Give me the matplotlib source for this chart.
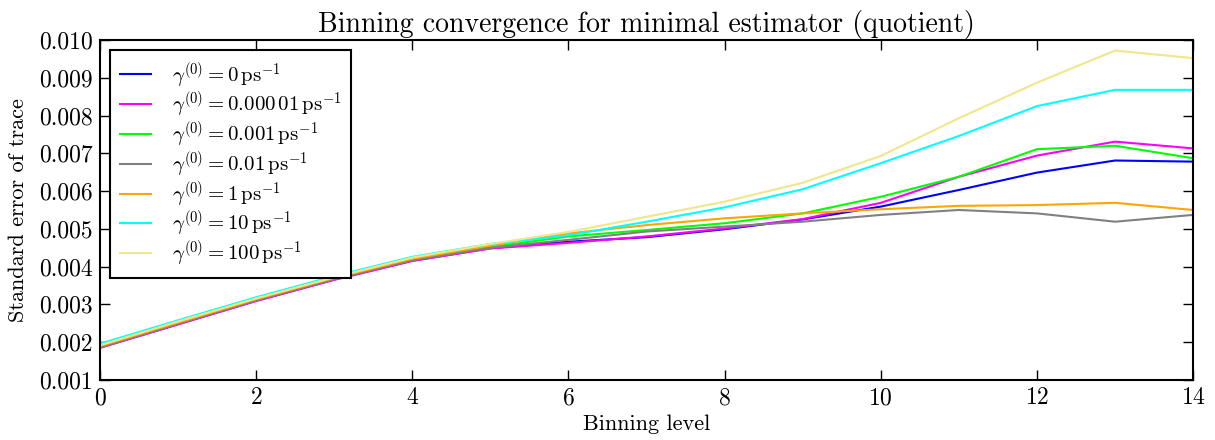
import matplotlib
matplotlib.use("Agg")
import matplotlib.pyplot as plt

plt.rcParams['font.family'] = 'serif'
plt.rcParams['font.serif'] = ['cmr10', 'DejaVu Serif']
plt.rcParams['mathtext.fontset'] = 'cm'
plt.rcParams['axes.unicode_minus'] = False
plt.rcParams['axes.formatter.use_mathtext'] = True

levels = list(range(15))

labels = [
    r'$\gamma^{(0)} = 0\,\mathrm{ps}^{-1}$',
    r'$\gamma^{(0)} = 0.000\,01\,\mathrm{ps}^{-1}$',
    r'$\gamma^{(0)} = 0.001\,\mathrm{ps}^{-1}$',
    r'$\gamma^{(0)} = 0.01\,\mathrm{ps}^{-1}$',
    r'$\gamma^{(0)} = 1\,\mathrm{ps}^{-1}$',
    r'$\gamma^{(0)} = 10\,\mathrm{ps}^{-1}$',
    r'$\gamma^{(0)} = 100\,\mathrm{ps}^{-1}$',
]
colors = ['#0000ff', '#ff00ff', '#00ff00', '#808080', '#ffa500', '#00ffff', '#f0e68c']

err_0 = [0.00186, 0.00248, 0.00310, 0.00366, 0.00416, 0.00449, 0.00466, 0.00478, 0.00499, 0.00525,
         0.00559, 0.00603, 0.00649, 0.00681, 0.00678]
err_1e5 = [0.00185, 0.00247, 0.00309, 0.00365, 0.00415, 0.00448, 0.00463, 0.00480, 0.00501, 0.00526,
           0.00569, 0.00638, 0.00694, 0.00731, 0.00713]
err_1e3 = [0.00187, 0.00250, 0.00312, 0.00368, 0.00419, 0.00452, 0.00480, 0.00497, 0.00515, 0.00541,
           0.00585, 0.00638, 0.00711, 0.00720, 0.00687]
err_1e2 = [0.00187, 0.00249, 0.00311, 0.00367, 0.00417, 0.00450, 0.00471, 0.00493, 0.00506, 0.00519,
           0.00537, 0.00550, 0.00541, 0.00519, 0.00537]
err_1 = [0.00190, 0.00252, 0.00314, 0.00370, 0.00421, 0.00456, 0.00488, 0.00510, 0.00528, 0.00541,
         0.00552, 0.00561, 0.00563, 0.00569, 0.00550]
err_10 = [0.00196, 0.00258, 0.00319, 0.00375, 0.00426, 0.00460, 0.00483, 0.00519, 0.00557, 0.00605,
          0.00674, 0.00746, 0.00825, 0.00868, 0.00868]
err_100 = [0.00192, 0.00255, 0.00316, 0.00372, 0.00424, 0.00460, 0.00492, 0.00532, 0.00572, 0.00622,
           0.00693, 0.00793, 0.00887, 0.00972, 0.00952]

series = [err_0, err_1e5, err_1e3, err_1e2, err_1, err_10, err_100]

fig = plt.figure(figsize=(12.15, 4.4), dpi=100)
ax = fig.add_axes([0.0823, 0.1364, 0.8997, 0.7727])

for vals, lab, col in zip(series, labels, colors):
    ax.plot(levels, vals, color=col, lw=1.5, label=lab)

ax.set_xlim(0, 14)
ax.set_ylim(0.001, 0.010)
ax.set_xticks(range(0, 15, 2))
ax.set_yticks([0.001 * i for i in range(1, 11)])
ax.set_yticklabels(['%.3f' % (0.001 * i) for i in range(1, 11)])
ax.tick_params(direction='in', top=True, right=True, length=7, width=1, labelsize=17, pad=5)
for sp in ax.spines.values():
    sp.set_linewidth(1.5)

ax.set_title('Binning convergence for minimal estimator (quotient)', fontsize=20, pad=6)
ax.set_xlabel('Binning level', fontsize=16, labelpad=4)
ax.set_ylabel('Standard error of trace', fontsize=16, labelpad=8)

leg = ax.legend(loc='upper left', fontsize=15, fancybox=False, framealpha=1,
                handlelength=1.5, handletextpad=1.0, borderaxespad=0.5,
                labelspacing=0.0, borderpad=0.45)
leg.get_frame().set_edgecolor('black')
leg.get_frame().set_linewidth(1.5)

fig.savefig('out.png', dpi=100)
